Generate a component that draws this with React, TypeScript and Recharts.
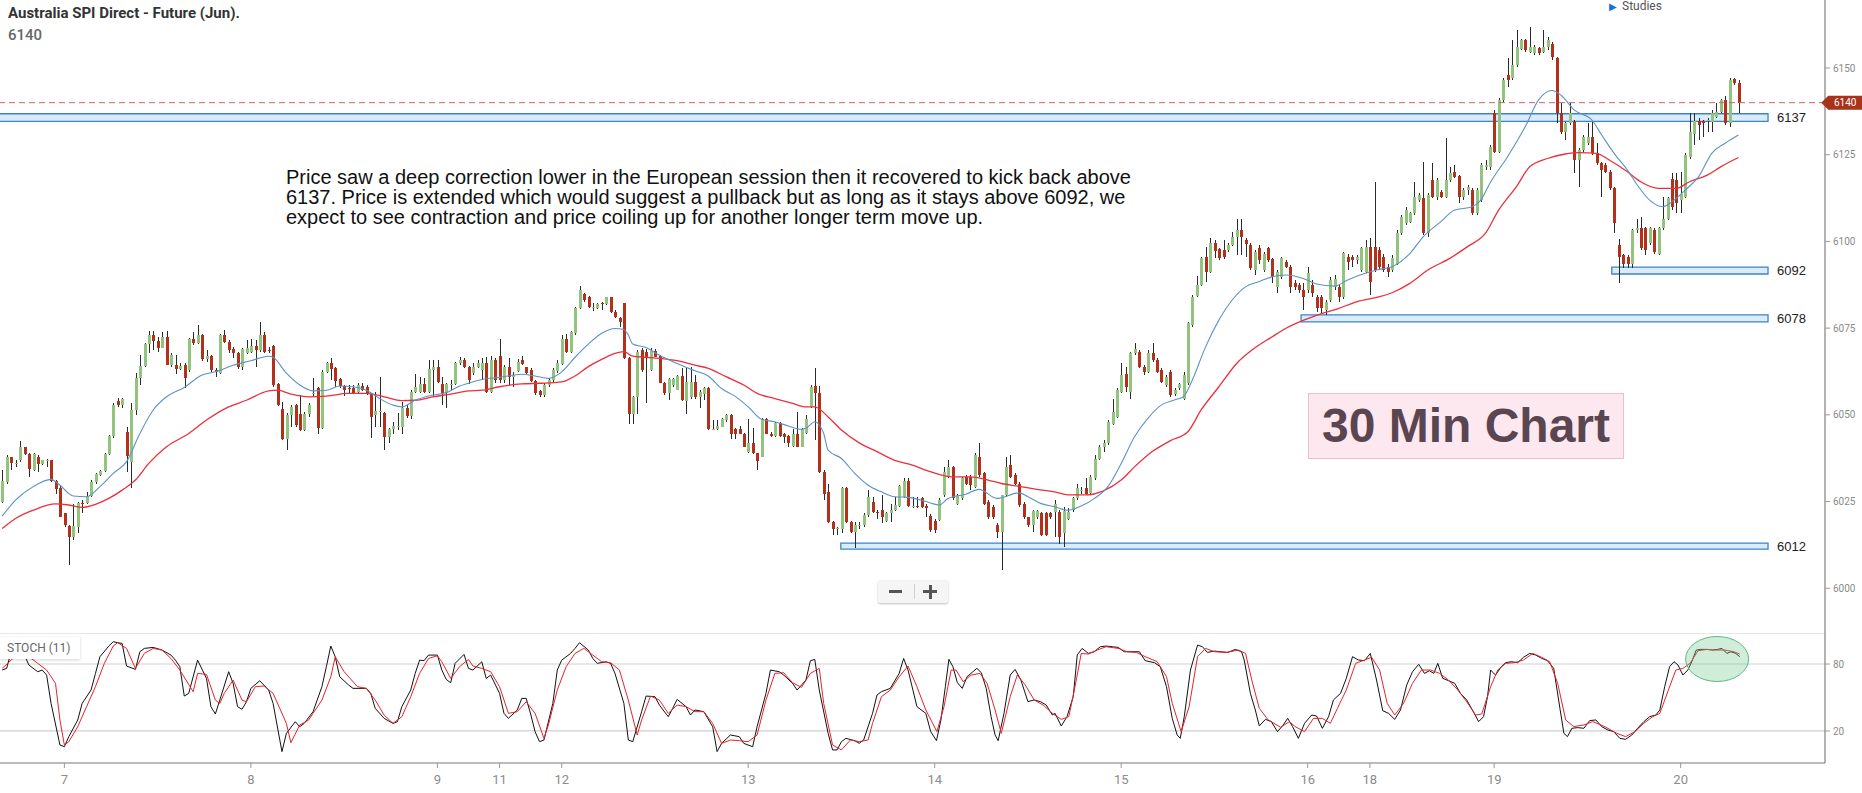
import React from "react";
import {
  ComposedChart, LineChart, Bar, Line, XAxis, YAxis,
  ReferenceArea, ReferenceLine, ReferenceDot,
} from "recharts";

// ---------- tick labels ----------
const dayTicks = [14, 56, 98, 112, 126, 168, 210, 252, 294, 308, 336, 378];
const dayLabels = ["7", "8", "9", "11", "12", "13", "14", "15", "16", "18", "19", "20"];
const priceTicks = [6000, 6025, 6050, 6075, 6100, 6125, 6150];
const stochTicks = [20, 80];
const SLOTS = 411;

// ---------- candles (30 min bars) ----------
const opens = [
  6024.8, 6030.7, 6037.7, 6036, 6037, 6040.6, 6038.7, 6034, 6037.7, 6035.8,
  6036.8, 6037, 6031, 6028.8, 6021.6, 6017.9, 6014.8, 6017.7, 6024.7, 6024.7,
  6026.7, 6030.5, 6032.6, 6033.9, 6038.7, 6043.9, 6054, 6052.8, 6045.1, 6036.5,
  6051.4, 6060.5, 6064.2, 6070.4, 6073, 6071.4, 6069.4, 6072.5, 6064.5, 6064.5,
  6063.2, 6064.5, 6062.9, 6071.8, 6070.6, 6073, 6066, 6067, 6062.9, 6062,
  6073, 6071.1, 6068.9, 6067.7, 6063.9, 6067.9, 6068.1, 6069.8, 6068.7, 6073,
  6068.7, 6069.8, 6058.9, 6051.8, 6042.9, 6049.9, 6052.8, 6050.2, 6045.6, 6050.2,
  6056.2, 6057.6, 6046.1, 6062.4, 6065, 6063.4, 6060.2, 6058.3, 6057.6, 6057.6,
  6056.6, 6058.3, 6058.1, 6056, 6050, 6050.9, 6050.6, 6043.7, 6045.8, 6046.8,
  6046.6, 6052.1, 6049.6, 6056.6, 6056.6, 6058.9, 6056.6, 6062.9, 6063.9, 6058.9,
  6056.4, 6058.9, 6058.9, 6064.8, 6065.8, 6063.7,
  6062.1, 6063.9, 6062.9, 6064.8, 6056.6, 6065.8, 6066.9, 6060, 6063.7, 6060.8,
  6062.7, 6065.8, 6063.7, 6062.9, 6059.8, 6056.9, 6055.7, 6058.6, 6060, 6062.7,
  6064.6, 6071.8, 6068.2, 6073.5, 6080.7, 6084.8, 6083.9, 6081, 6080.7, 6082.1,
  6081.9, 6083.9, 6079.7, 6077.8, 6082.1, 6066.3, 6050.2, 6055.2, 6068.7, 6068.2,
  6062.9, 6068.5, 6066.9, 6059.3, 6056.4, 6058.6, 6057.3, 6061.2, 6054, 6055.2,
  6059.5, 6055, 6056, 6057.6, 6045.8, 6045.8, 6046.6, 6048.5, 6049.9, 6045.8,
  6045.8, 6044.6, 6039.3, 6041.9, 6038.9, 6037.9, 6048.7, 6044.6, 6043.9, 6047.7,
  6044.6, 6043.9, 6041, 6044.6, 6040.8, 6044.8, 6052.3, 6058.3, 6056.2, 6033.6,
  6027.8, 6019.2, 6017.2, 6017.2, 6029, 6019.2, 6016.3, 6018.2, 6018.2, 6021.1,
  6024.9, 6022, 6022.7, 6019.4, 6021.6, 6022.5, 6023.7, 6026.4, 6031, 6023.7,
  6023.7, 6025.9, 6023.7, 6020.8, 6019.4, 6019.6, 6026.8, 6032.1, 6035, 6024.4,
  6025.9, 6032.1, 6032.1, 6029.3, 6037.9, 6033.1, 6024.9, 6023.5, 6018.2, 6016.3,
  6026.8, 6035.5, 6032.6, 6030.2, 6024.4, 6020.4, 6018.2, 6020.6, 6021.6, 6021.6,
  6021.6, 6022, 6022, 6015.8, 6020.1, 6022.5, 6025.9, 6028.3, 6028.8, 6027.5,
  6031.7, 6037.4, 6040.8, 6041.8, 6047.5, 6049.4, 6056.6, 6061.8, 6056.7, 6067.7,
  6068.2, 6063.9, 6062.4, 6067.9, 6065.8, 6062.9, 6058.6, 6062.4, 6056, 6057.6,
  6054.7, 6059.1, 6075.9, 6084.3, 6087.4, 6095.4, 6091.3, 6099.4, 6097.7, 6097.5,
  6097.5, 6099, 6101.2, 6103.3, 6100.4, 6099, 6091.8, 6098, 6091.7, 6098,
  6094.8, 6086.9, 6089.8, 6094.1, 6092.7, 6088.1, 6087.4, 6085.9, 6085.9, 6087.4,
  6084, 6084, 6080.2, 6083.1, 6086.9, 6086.9, 6084, 6095.6, 6095.6, 6094.6,
  6091.7, 6091.2, 6098.5, 6098.5, 6097.5, 6095.6, 6092.7, 6091.7, 6093.6, 6102.3,
  6105.2, 6105.7, 6108.1, 6112, 6112.4, 6102.3, 6117.7, 6112.9, 6114.3, 6112.9,
  6117.7, 6120.1, 6118.9, 6112.9, 6114.8, 6114.8, 6108.1, 6111.9, 6121.5, 6121.5,
  6136.9, 6125.9, 6140.8, 6148, 6147, 6150.9, 6155.6, 6158.1, 6154.7, 6154.2,
  6155.7, 6154.7, 6156.1, 6156.9, 6152.8, 6136.9, 6131.6, 6134, 6134.5, 6123.4,
  6126.3, 6128.3, 6130.2, 6125.4, 6122.5, 6122, 6120.1, 6115.3, 6098.9, 6096,
  6095.6, 6093.6, 6103.3, 6103.8, 6103.8, 6099.4, 6103.3, 6096.5, 6103.8, 6106.6,
  6117.9, 6117.7, 6111.9, 6112.9, 6124.4, 6131.1, 6134.8, 6134.8, 6134.8, 6134.5,
  6136, 6137.4, 6140.8, 6134, 6146.7, 6145.8,
];
const highs = [
  6034, 6038.4, 6037.9, 6037, 6042.5, 6040.8, 6038.9, 6038.9, 6038.4, 6037.1,
  6037.4, 6037.1, 6031.2, 6029.7, 6021.8, 6018.2, 6024.4, 6024.9, 6025.4, 6027.8,
  6031.2, 6033.1, 6034, 6038.9, 6044.2, 6053.3, 6054.9, 6054.9, 6046.5, 6053.3,
  6062.1, 6067.2, 6070.6, 6074.3, 6074.3, 6072.5, 6074, 6074.3, 6067.7, 6067.2,
  6065, 6064.8, 6072.1, 6074, 6075.9, 6073.3, 6068.7, 6067.2, 6063.4, 6073.3,
  6074.6, 6071.6, 6069.6, 6068.2, 6069.2, 6071.6, 6071.8, 6071.6, 6076.9, 6074,
  6069.6, 6070.1, 6059.1, 6053.8, 6050.4, 6052.8, 6053.1, 6055.7, 6050.9, 6053.3,
  6060.5, 6058.1, 6062.9, 6065.3, 6066.3, 6063.9, 6060.5, 6058.6, 6058.6, 6058.6,
  6059.3, 6059.1, 6058.6, 6056.4, 6056.6, 6060.8, 6050.9, 6046.1, 6048, 6050.6,
  6053.8, 6052.8, 6057.1, 6061.8, 6060.8, 6060.5, 6065.8, 6065.8, 6065.8, 6060.8,
  6059.1, 6060, 6065.3, 6066.8, 6066.3, 6064,
  6064.8, 6065.8, 6066.3, 6066.8, 6066.9, 6066.5, 6071.8, 6064.4, 6066.5, 6062.4,
  6066, 6066.9, 6063.9, 6063.4, 6060, 6057.1, 6059.1, 6060.5, 6063.4, 6065.8,
  6073, 6073.3, 6074.3, 6081.2, 6087, 6085.2, 6084.3, 6082.1, 6082.1, 6082.6,
  6084.1, 6084.1, 6080.2, 6078.3, 6082.3, 6066.6, 6055.4, 6068.7, 6069.2, 6068.9,
  6069.2, 6068.9, 6067.2, 6059.5, 6060.5, 6060.5, 6061.5, 6063.4, 6063.4, 6063.9,
  6061.5, 6057.1, 6058.1, 6057.9, 6048.5, 6048.5, 6049, 6050.2, 6050.2, 6046.1,
  6046.8, 6044.8, 6048.7, 6046.1, 6039.1, 6049, 6049, 6045.1, 6048, 6048,
  6044.8, 6044.2, 6045.8, 6050.9, 6046.1, 6049.9, 6058.6, 6063.4, 6058.3, 6034.1,
  6030.2, 6019.5, 6017.7, 6029.2, 6029.2, 6019.5, 6019.2, 6019.2, 6021.6, 6028.3,
  6026.4, 6022.5, 6026.8, 6022.1, 6024.4, 6026.4, 6029.7, 6031.7, 6031.7, 6026.4,
  6026.4, 6026.4, 6024.2, 6021.3, 6020.1, 6025.9, 6035, 6036.9, 6035.2, 6027.3,
  6032.1, 6032.6, 6032.6, 6038.9, 6041.8, 6033.6, 6025.4, 6023.9, 6018.7, 6027,
  6037.9, 6038.4, 6033.1, 6030.7, 6024.9, 6020.6, 6022.5, 6022.7, 6022, 6022,
  6022, 6025.4, 6022.5, 6023.5, 6023, 6026.4, 6030.2, 6029.3, 6031.7, 6032.6,
  6038.4, 6041.3, 6042.7, 6048.5, 6054.7, 6057.6, 6064.8, 6063.9, 6068.2, 6070.8,
  6068.7, 6064.4, 6068.7, 6070.8, 6066.3, 6063.4, 6061.5, 6062.9, 6057.6, 6059.1,
  6062.4, 6076.9, 6084.5, 6090, 6095.6, 6098.5, 6100.9, 6100.4, 6098, 6100.4,
  6099.4, 6102.8, 6106.4, 6106.4, 6100.9, 6099.4, 6097.5, 6099, 6097, 6098.5,
  6095.1, 6091.7, 6095.6, 6094.6, 6093.2, 6088.8, 6087.9, 6087.9, 6092.7, 6088.8,
  6084.5, 6084.5, 6083.1, 6089.8, 6090.3, 6087.4, 6097, 6096.5, 6096, 6096,
  6098.5, 6100.4, 6100.9, 6117.2, 6098.5, 6096.5, 6093.6, 6096, 6103.3, 6107.6,
  6110, 6108.6, 6117.2, 6113.9, 6123, 6113.9, 6122.5, 6118.2, 6114.8, 6129.7,
  6121.5, 6122, 6119.1, 6115.3, 6116.3, 6115.3, 6115.3, 6122.5, 6123.4, 6127.8,
  6137.9, 6141.3, 6147, 6152.8, 6158.1, 6161, 6158.5, 6158.5, 6161.9, 6156.6,
  6156.1, 6160.9, 6159, 6157.6, 6153.3, 6139.8, 6134.5, 6139.8, 6135, 6126.8,
  6130.7, 6134, 6134.5, 6128.3, 6123, 6122.5, 6120.6, 6115.8, 6100.8, 6096.5,
  6096.1, 6103.7, 6106.6, 6107.1, 6104.2, 6104.2, 6103.8, 6104.2, 6112.9, 6112.9,
  6119.6, 6119.6, 6120.1, 6125.4, 6136.9, 6136.9, 6135.5, 6135, 6135.5, 6137.9,
  6139.8, 6141.2, 6141.8, 6147, 6147, 6146.5,
];
const lows = [
  6024.5, 6030.2, 6034, 6035, 6036.5, 6038.4, 6032.2, 6033.8, 6033.6, 6035.5,
  6035, 6030.7, 6027.3, 6020.4, 6017.7, 6006.7, 6013.9, 6015.8, 6021.8, 6024.4,
  6026.4, 6030.2, 6032.3, 6033.6, 6038.4, 6043.2, 6052.3, 6052.1, 6033.6, 6028.8,
  6050, 6058.6, 6063.9, 6067.7, 6068.7, 6068.2, 6069.2, 6064.3, 6063.9, 6061.8,
  6062.9, 6057.6, 6062.4, 6070.1, 6070.3, 6065.6, 6065.3, 6062.4, 6061, 6061.8,
  6070.8, 6067.9, 6066.3, 6063.1, 6062.9, 6067.5, 6067.7, 6063.9, 6068.2, 6067.9,
  6067.7, 6058.1, 6052.5, 6042.7, 6039.8, 6046.6, 6046.6, 6045.4, 6045.4, 6049.4,
  6055.2, 6044.4, 6045.8, 6062, 6060, 6058.1, 6057.6, 6055.4, 6056.4, 6056,
  6056.4, 6056.9, 6055.7, 6043.2, 6046.6, 6046.6, 6039.8, 6041.8, 6044.6, 6045.6,
  6044.6, 6049, 6048.7, 6056.4, 6056.2, 6056.2, 6056.2, 6055.2, 6059.1, 6052.8,
  6052.1, 6057.1, 6058.6, 6064.3, 6063.4, 6059,
  6061.5, 6063.4, 6060, 6056.4, 6056.4, 6059.1, 6059.1, 6059.1, 6058.6, 6058.1,
  6062.4, 6064.3, 6061.8, 6059.5, 6055.7, 6055, 6055, 6058.1, 6059.5, 6062,
  6064.3, 6067.7, 6067.7, 6073, 6080.4, 6082.6, 6080.7, 6080, 6080.4, 6080.2,
  6081.7, 6079.3, 6077.8, 6075.4, 6066, 6047.5, 6047.5, 6050.2, 6062.4, 6053.5,
  6062.6, 6066.6, 6059.1, 6055.7, 6054.2, 6058.1, 6057.1, 6054, 6050.2, 6054.7,
  6054.7, 6052.1, 6054.2, 6045.6, 6045.6, 6045.6, 6046.4, 6048, 6042.9, 6042.9,
  6044.4, 6040.6, 6039.1, 6038.7, 6034.1, 6037.7, 6044.4, 6043.7, 6043.5, 6043.5,
  6041.9, 6040.8, 6040.8, 6040.6, 6040.6, 6044.6, 6052.1, 6042.7, 6033.3, 6025.4,
  6018.9, 6015.3, 6015.3, 6015.8, 6018.9, 6015.8, 6011.5, 6017.2, 6017.7, 6020.6,
  6021.6, 6020.1, 6018.9, 6019.2, 6019.2, 6022.3, 6023.5, 6025.9, 6023.3, 6023,
  6023, 6023, 6020.6, 6016.3, 6016, 6019.4, 6026.4, 6031.7, 6025.4, 6024,
  6025.4, 6029.7, 6028.3, 6028.8, 6032.1, 6024, 6020.1, 6020.1, 6014.4, 6005.2,
  6026.4, 6031.7, 6029.7, 6023.5, 6020.1, 6017.7, 6016.3, 6020.1, 6015, 6015,
  6020.1, 6014.8, 6012.9, 6012, 6019.6, 6022, 6025.4, 6027.3, 6026.8, 6027.3,
  6031.2, 6036.9, 6039.4, 6041.3, 6047, 6049, 6056.2, 6056.7, 6054.7, 6067.2,
  6063.4, 6061.5, 6062, 6065.3, 6062, 6059.1, 6058.1, 6055.2, 6055.5, 6057.1,
  6054.2, 6058.6, 6075.4, 6084.1, 6087, 6088.4, 6090.8, 6095.1, 6094.6, 6094.8,
  6097, 6098.7, 6096.1, 6096.1, 6095.6, 6091.8, 6090.3, 6093.6, 6091.2, 6094,
  6087.9, 6085, 6089.3, 6092.2, 6085, 6086, 6085, 6080.2, 6085, 6084,
  6079.7, 6079.2, 6078.7, 6082.6, 6086, 6082.6, 6083.5, 6091.7, 6092.7, 6093.6,
  6091.2, 6090.8, 6084.5, 6091.2, 6091.7, 6091.2, 6089.8, 6091.2, 6093.2, 6101.8,
  6104.7, 6105.2, 6107.6, 6111.4, 6101.8, 6101.3, 6112.4, 6111.9, 6112.4, 6112.4,
  6117.2, 6118.2, 6111, 6111.9, 6113.4, 6107.6, 6107.6, 6111.4, 6120.6, 6120.6,
  6125.4, 6125.4, 6140.3, 6144.6, 6146.5, 6150.4, 6155.2, 6154.7, 6154.2, 6153.7,
  6153.7, 6154.2, 6155.2, 6152.3, 6134, 6131.1, 6129.2, 6133.5, 6119.6, 6115.8,
  6125.9, 6127.8, 6124.9, 6122, 6112.9, 6119.6, 6114.8, 6102.3, 6088.1, 6092.2,
  6092.2, 6092.2, 6102.3, 6097.5, 6096.1, 6098.9, 6096.5, 6096.1, 6103.3, 6106.1,
  6109, 6108.1, 6108.1, 6112.4, 6123.9, 6127.8, 6129.2, 6130.2, 6131.6, 6131.6,
  6135.5, 6136.9, 6133.5, 6133.1, 6145.1, 6136.9,
];
const closes = [
  6031, 6037.7, 6036, 6036.2, 6040.8, 6038.7, 6034.5, 6038.7, 6035.8, 6037,
  6036.9, 6031, 6028.6, 6020.6, 6018.2, 6014.8, 6017.9, 6024.7, 6024.6, 6026.7,
  6030.7, 6032.9, 6033.9, 6038.7, 6043.9, 6052.8, 6052.8, 6054.7, 6038, 6051.4,
  6060.5, 6064.2, 6070.4, 6073, 6071.4, 6069.4, 6072.5, 6064.5, 6067.2, 6063.2,
  6064.2, 6060.5, 6071.8, 6070.6, 6073, 6066, 6067, 6062.9, 6062.4, 6073,
  6071.1, 6068.7, 6067.9, 6063.9, 6068.9, 6069.2, 6069.8, 6068.7, 6073, 6068.2,
  6068.5, 6058.6, 6052.8, 6042.9, 6049.9, 6052.3, 6047, 6045.6, 6050.2, 6052.8,
  6056.3, 6046.1, 6062.4, 6064.8, 6063.2, 6059.8, 6058.3, 6057.1, 6057.5, 6056.2,
  6058.6, 6057.3, 6056, 6049.3, 6051.2, 6051, 6043.7, 6045.8, 6046.8, 6046.9,
  6052.1, 6049.6, 6056.6, 6057.9, 6058.9, 6056.6, 6063.1, 6063.9, 6059.5, 6056.4,
  6058.9, 6059, 6064.8, 6065.8, 6063.9, 6060,
  6063.9, 6065, 6064.8, 6056.6, 6065.8, 6060, 6060, 6063.7, 6061, 6061.5,
  6065.3, 6064.6, 6062.1, 6059.8, 6056.4, 6055.7, 6058.6, 6060, 6062.9, 6064.8,
  6071.8, 6068.2, 6074, 6080.7, 6086, 6083.1, 6081, 6081.1, 6081.9, 6082,
  6083.9, 6079.7, 6078.1, 6076.8, 6066.3, 6050.2, 6055.2, 6068.2, 6062.9, 6066.6,
  6068.5, 6066.8, 6059.3, 6056.4, 6060.2, 6060.2, 6061.2, 6054.2, 6059.5, 6059.5,
  6055, 6056.6, 6057.6, 6045.8, 6045.9, 6046.8, 6048.7, 6049.9, 6044.6, 6044.6,
  6044.6, 6040.8, 6041.9, 6038.9, 6036.8, 6048.7, 6044.6, 6043.9, 6047.7, 6043.9,
  6043.7, 6041.8, 6044.6, 6040.8, 6045.8, 6048.7, 6058.1, 6056.4, 6033.6, 6027.1,
  6019.2, 6017.2, 6017.3, 6029, 6019.2, 6016.3, 6018.2, 6018.3, 6021.1, 6026.4,
  6022, 6021.6, 6020.4, 6021.8, 6022.7, 6024, 6029.4, 6031, 6023.7, 6023.8,
  6023.6, 6023.3, 6023, 6016.9, 6016.8, 6025.4, 6033.6, 6035, 6025.9, 6026.8,
  6031.7, 6030.2, 6029.7, 6038.4, 6032.6, 6024.4, 6020.6, 6020.6, 6016.3, 6026.8,
  6035, 6032.1, 6030.2, 6024, 6020.4, 6018.2, 6022.3, 6022.3, 6015.3, 6015.3,
  6020.6, 6024.4, 6014.8, 6022.3, 6022, 6025.9, 6028.8, 6028.4, 6027.3, 6032.1,
  6037.4, 6040.8, 6041.8, 6048, 6050.9, 6057.1, 6061.5, 6058.1, 6067.7, 6068.9,
  6063.9, 6062.4, 6067.9, 6065.8, 6062.4, 6059.5, 6061, 6055.7, 6057.1, 6058.8,
  6061.5, 6076.4, 6084.1, 6087.4, 6095.1, 6091.3, 6099.4, 6097.3, 6095.1, 6095.4,
  6099, 6101.4, 6103.3, 6101.4, 6099.3, 6092.2, 6097, 6094.6, 6096.5, 6094.6,
  6089.8, 6091.2, 6095.1, 6092.7, 6086.9, 6086.9, 6085.9, 6084, 6090.8, 6085,
  6080.7, 6080.7, 6082.6, 6088.8, 6089.3, 6084, 6096.7, 6094.1, 6094.6, 6095.6,
  6098, 6098.5, 6088.4, 6091.7, 6092.7, 6091.7, 6091.2, 6095.1, 6102.3, 6107.1,
  6109, 6108.1, 6112.9, 6113.4, 6102.3, 6113.4, 6112.9, 6117.7, 6112.9, 6117.7,
  6119.6, 6118.6, 6112.9, 6114.8, 6115.8, 6108.1, 6114.8, 6122, 6121.9, 6127.3,
  6125.9, 6140.8, 6146.5, 6146.5, 6150.9, 6156.1, 6158.1, 6155.2, 6156.1, 6156.1,
  6154.2, 6156.1, 6158.1, 6153.3, 6136.9, 6131.6, 6134, 6136.9, 6123.4, 6126.3,
  6130.2, 6130.2, 6125.4, 6122.5, 6120.6, 6120.1, 6115.3, 6105.2, 6095.6, 6093.6,
  6093.6, 6103.3, 6103.8, 6098, 6097.5, 6103.8, 6097, 6103.8, 6106.6, 6112.4,
  6110, 6111, 6113.8, 6124.9, 6131.6, 6134.8, 6133.5, 6134, 6134.9, 6136.9,
  6137.4, 6140.8, 6134, 6146.5, 6145.8, 6140,
];

// ---------- moving averages (read at sample bars) ----------
const fastAt = [
  0, 3, 7, 11, 13, 16, 19, 22, 25, 28, 31, 34, 37, 41, 45, 48, 52, 56, 60, 61,
  64, 67, 70, 73, 76, 79, 82, 85, 88, 90, 93, 97, 100, 103, 105, 108, 112, 117, 120, 123,
  126, 129, 132, 135, 138, 140, 141, 142, 145, 148, 152, 156, 159, 162, 165, 168, 171, 174, 177, 180,
  181, 183, 185, 186, 189, 192, 195, 198, 201, 204, 207, 209, 211, 213, 217, 220, 224, 229, 231, 234,
  237, 240, 243, 246, 249, 252, 255, 258, 261, 264, 266, 268, 271, 274, 277, 280, 283, 286, 289, 293,
  296, 300, 303, 307, 310, 313, 317, 320, 324, 327, 331, 333, 335, 339, 343, 346, 349, 351, 354, 358,
  360, 363, 366, 368, 371, 374, 376, 379, 382, 385, 388, 391,
];
const fastVals = [
  6020.8, 6025.4, 6029.3, 6031.4, 6029.7, 6026.6, 6026.4, 6029.3, 6033.1, 6036.5, 6044.6, 6051.4, 6055.2, 6057.9, 6061.5, 6062.4, 6064.3, 6065.6, 6066.9, 6066.6,
  6062, 6058.6, 6056.9, 6057.1, 6058.3, 6058.1, 6057.1, 6054.7, 6052.8, 6052.3, 6054.2, 6055.7, 6056.4, 6058.3, 6059.1, 6060.2, 6060.8, 6061.7, 6061.2, 6060.5,
  6062.4, 6066.6, 6070.4, 6073.5, 6074.9, 6074.6, 6073, 6070.4, 6069.4, 6067.2, 6064.8, 6062.7, 6061.2, 6057.6, 6055.4, 6052.3, 6048.7, 6048, 6046.8, 6045.8,
  6046.1, 6048, 6044.6, 6039.8, 6037.4, 6033.1, 6029.7, 6027.8, 6026.4, 6026.2, 6025.4, 6024.6, 6024, 6025.9, 6027.1, 6028.5, 6025.9, 6027.5, 6026.4, 6024.4,
  6023.5, 6022.5, 6023.7, 6025.9, 6029.3, 6036, 6043.7, 6049, 6052.8, 6054.3, 6055.2, 6060, 6069.6, 6077.3, 6083.1, 6086.9, 6088.4, 6089.8, 6090.3, 6089.3,
  6087.7, 6087.1, 6088.9, 6090.8, 6091.9, 6092.7, 6096.5, 6101.3, 6105.7, 6109, 6110, 6111.9, 6116.7, 6124.4, 6133.1, 6140.8, 6143.5, 6142.2, 6137.9, 6135,
  6131.1, 6125.4, 6120.6, 6116.7, 6111.9, 6110, 6111.4, 6114.8, 6118.6, 6125.4, 6128.3, 6130.7,
];
const slowAt = [
  0, 3, 7, 12, 15, 18, 21, 24, 27, 30, 33, 37, 42, 46, 51, 55, 60, 62, 65, 69,
  73, 78, 82, 86, 90, 93, 97, 101, 105, 108, 112, 117, 121, 126, 129, 132, 135, 138, 140, 142,
  145, 148, 152, 156, 159, 163, 167, 170, 174, 178, 181, 183, 186, 189, 193, 197, 201, 205, 209, 214,
  218, 222, 225, 229, 233, 237, 240, 244, 248, 252, 255, 259, 263, 267, 270, 274, 278, 282, 286, 289,
  296, 301, 305, 310, 313, 317, 321, 326, 330, 334, 337, 341, 344, 348, 352, 355, 359, 362, 366, 369,
  373, 377, 380, 384, 387, 391,
];
const slowVals = [
  6017.2, 6020.1, 6022.5, 6024.3, 6024, 6023.3, 6024.2, 6025.9, 6028.3, 6031.2, 6036, 6040.8, 6044.6, 6048.5, 6052.3, 6054.2, 6056.9, 6057.1, 6056, 6055.2,
  6055.4, 6056.2, 6056.2, 6055.2, 6054.1, 6054.2, 6055.2, 6056, 6056.9, 6057.1, 6058.1, 6058.9, 6059.1, 6059.5, 6061.2, 6063.9, 6066, 6067.7, 6068.2, 6066.9,
  6066.6, 6066.3, 6065.6, 6064.3, 6063.4, 6061, 6058.6, 6056.2, 6054.7, 6053.3, 6052.3, 6052.3, 6049.4, 6045.6, 6041.9, 6039.4, 6036.9, 6035.5, 6033.6, 6032.1,
  6032.1, 6031.2, 6030.2, 6029.4, 6028.5, 6027.8, 6026.9, 6026.9, 6028.1, 6031.2, 6035, 6039.4, 6042.5, 6045.1, 6051.4, 6058.1, 6064.8, 6069.2, 6072.5, 6074.9,
  6078.7, 6080.7, 6082.6, 6084, 6085.2, 6087.9, 6091.7, 6095.1, 6098.5, 6102.3, 6109, 6115.8, 6121.5, 6123.9, 6125.2, 6125.6, 6125.4, 6123.4, 6120.1, 6117.2,
  6115.3, 6115.3, 6117.2, 6119.1, 6121.5, 6124.2,
];

// ---------- stochastic (11) ----------
const kAt = [
  0, 1, 2, 4, 5, 6, 8, 9, 10, 11, 13, 14, 15, 17, 18, 20, 21, 22, 24, 25,
  26, 27, 28, 30, 31, 32, 34, 36, 38, 39, 40, 41, 42, 44, 46, 47, 48, 49, 51, 52,
  53, 54, 55, 56, 58, 60, 61, 63, 64, 66, 67, 68, 70, 72, 73, 74, 75, 76, 78, 79,
  82, 83, 84, 86, 88, 89, 90, 92, 93, 94, 95, 96, 98, 99, 100, 101, 102, 104, 105, 106,
  108, 109, 110, 112, 113, 114, 116, 117, 118, 119, 120, 121, 122, 124, 125, 126, 128, 129, 130, 132,
  133, 134, 136, 137, 138, 140, 141, 142, 144, 145, 147, 148, 150, 151, 152, 154, 155, 156, 158, 160,
  161, 162, 164, 166, 167, 169, 170, 172, 173, 175, 176, 178, 179, 181, 182, 183, 184, 186, 187, 188,
  189, 190, 192, 193, 194, 196, 197, 198, 200, 202, 203, 204, 206, 208,
  209.1, 210.4, 211.4, 212.4, 213.2, 214.1, 215.1, 216.2, 217.3, 218.6, 219.5, 220.5, 221.6, 222.7, 223.6, 224.3, 225.6, 227, 228.1, 229.4,
  231, 232.4, 233.8, 235.1, 236.5, 237.1, 238.5, 239.8, 241.2, 242.1, 243.2, 244.6, 245.9, 247.3, 248.6, 250, 251.3, 252.7, 254, 256.1,
  257.4, 259.5, 260.8, 262.2, 263.5, 264.6, 265.3, 266.2, 267.6, 269.2, 270.3, 271.4, 273, 274.3, 276, 277.7, 279.1, 279.7, 281.1, 282.2,
  283.1, 284.5, 285.8, 287.2, 288.5, 289.5, 290.6, 291.9, 293.3, 294.9, 296, 297.3, 298.7, 299.8, 301.4, 302.7, 304.1, 305.4, 306.8, 308.1,
  309.5, 310.9, 312.2, 313.6, 314.9, 316.3, 317.6, 319, 320.3, 321.4, 322.4, 323.3, 324.4, 325.7, 327.1, 328.4, 329.8, 331.1, 332.5, 333.6,
  334.5, 335.2, 336.3, 337.6, 338.6, 339.9, 341.3, 342.6, 344, 345.3, 346.7, 348, 349.4, 350.8, 351.7, 352.5, 353.5, 354.8, 356.2, 357.5,
  358.9, 360.2, 361.6, 362.9, 364.3, 365.6, 367, 368.3, 369.7, 371, 372.4, 373.3, 374.4, 375.5, 376.5, 377.4, 378.5, 379.6, 380.5, 381.5,
  382.5, 383.9, 385.2, 386.3, 387.3, 388.4, 389.3, 390.4, 391.3,
];
const kVals = [
  74.6, 76.1, 91, 91.9, 88, 79.1, 73.1, 74.6, 70.1, 44.7, 7.4, 5.9, 14.9, 29.8, 44.7, 56.7, 71.6, 86.5, 96.1, 100,
  99.1, 98.5, 78.2, 75.2, 91, 94, 94.9, 92.5, 88, 83.5, 77.6, 51.3, 53.7, 83.5, 67.1, 41.8, 35.2, 47.7, 73.1, 62.7,
  41.8, 39.4, 46.2, 58.2, 65, 56.7, 44.7, 1.5, 17.9, 28.3, 23.8, 26.8, 37.3, 59.7, 77.6, 96.1, 86.5, 68.6, 61.2, 58.2,
  58.2, 53.7, 40.3, 31.3, 26.8, 28.3, 41.8, 56.7, 71.6, 83.5, 83, 88, 88, 74.6, 66.2, 63.2, 80.6, 88.6, 76.1, 74.6,
  82, 67.1, 70.1, 53.7, 35.8, 31.3, 38.8, 49.2, 49.2, 35.2, 19.4, 10.4, 11.9, 44.7, 74.6, 83.5, 89.5, 94, 99.1, 92.5,
  85, 80.6, 82, 80.6, 71.6, 44.7, 11.9, 10.4, 37.3, 51.3, 50.7, 43.2, 32.8, 40.3, 48.3, 41.8, 34.3, 38.8, 37.3, 23.8,
  1.5, 8.9, 16.4, 14.9, 8.9, 5.9, 23.8, 53.7, 74.6, 73.1, 70.1, 62.7, 56.7, 65.6, 83, 84.1, 56.7, 17.9, 3, 3,
  10.4, 13.4, 11.3, 8.9, 11.9, 35.8, 52.2, 55.2, 58.2, 71.6, 85, 74.6, 41.8, 35.8,
  19.4, 11.3, 29.9, 59.7, 84.2, 77.6, 63.3, 58.2, 68.7, 73.1, 76.1, 72.2, 58.2, 32.8, 16.4, 11.3, 35.8, 70.1, 75.2, 65.7,
  46.3, 47.8, 46.3, 43.3, 34.3, 35.8, 24.5, 32.8, 50.7, 88.1, 94, 89.5, 91, 95.5, 96.1, 95.5, 94.9, 91, 91, 91,
  83, 81.2, 77.6, 59.7, 31.3, 16.4, 13.4, 32.8, 74.6, 97, 95.5, 90.4, 91.6, 91, 90.4, 93.1, 91, 83.6, 53.7, 38.8,
  24.5, 30.4, 28.4, 19.4, 25.4, 31.3, 23.9, 13.4, 26.9, 34.3, 33.4, 22.4, 32.8, 47.8, 53.7, 67.2, 86.6, 83.6, 83, 89.5,
  65.7, 38.2, 35.8, 30.4, 38.8, 61.2, 73.1, 79.7, 71.6, 74, 71.6, 80.6, 67.2, 65.1, 62.7, 53.7, 47.8, 38.8, 28.4, 32.8,
  50.7, 74.6, 70.1, 77.6, 81.2, 82.1, 81.2, 86, 89.5, 88.1, 85.1, 83, 76.1, 40.3, 17.9, 14.9, 22.4, 23, 22.4, 29.3,
  29.9, 23.9, 20.9, 19.4, 13.4, 12.5, 16.4, 22.4, 28.4, 32.8, 34.3, 38.8, 59.7, 77.6, 82.1, 79.1, 70.1, 74.6, 82.1, 92.5,
  93.1, 93.1, 92.5, 93.1, 94, 89.5, 91, 89.5, 86.6,
];
const dAt = [
  0, 2, 4, 6, 8, 10, 12, 13, 14, 15, 17, 19, 21, 23, 25, 26, 28, 30, 32, 34,
  36, 38, 40, 43, 44, 46, 48, 49, 50, 52, 54, 55, 57, 59, 61, 64, 65, 67, 69, 72,
  74, 75, 77, 80, 82, 84, 86, 88, 90, 92, 94, 96, 98, 99, 101, 103, 105, 106, 108, 110,
  112, 114, 116, 118, 120, 122, 123, 125, 127, 129, 131, 133, 135, 137, 139, 141, 143, 144, 146, 148,
  150, 152, 154, 156, 158, 160, 162, 164, 166, 168, 170, 172, 174, 176, 178, 180, 182, 184, 185, 187,
  189, 191, 193, 195, 196, 198, 200, 202, 204, 206, 208,
  210.5, 212.1, 213.7, 214.8, 216.4, 218.2, 220.2, 221.8, 223.6, 225, 227, 228.6, 230.4, 232.4, 234.4, 236.5, 238.5, 240.2, 241.6, 243,
  244.6, 246.6, 248.6, 251.3, 253.4, 255.4, 257.4, 260.1, 262.2, 263.5, 265.5, 267.3, 269.2, 271, 273, 275.7, 278.4, 280, 281.4, 283.1,
  285.1, 287.9, 289.9, 291.2, 293.3, 295.3, 297.3, 299.1, 300.7, 302.7, 304.8, 306.8, 308.4, 310.2, 311.9, 313.6, 315.6, 317.6, 319.6, 321.7,
  323.7, 325.7, 327.8, 329.8, 331.8, 333.2, 335.2, 336.8, 338.6, 340.6, 342.6, 344.7, 346.7, 348.5, 350.3, 352.1, 353.9, 356.2, 358.2, 360.9,
  363.6, 365.6, 367.7, 369.7, 371.7, 373.3, 375.1, 376.9, 378.5, 380.1, 381.9, 383.9, 385.9, 387.9, 390, 391.3,
];
const dVals = [
  76.1, 83.5, 91, 86.5, 80.6, 74.6, 62.7, 29.8, 7.4, 10.4, 23.8, 41.8, 59.7, 80.6, 96.1, 99.1, 94, 76.1, 89.5, 94,
  92.5, 85, 74.6, 55.2, 71.6, 70.7, 47.7, 44.7, 53.7, 65.6, 47.7, 46.2, 59.7, 60.3, 53.7, 26.8, 9.5, 25.3, 29.8, 47.7,
  68.6, 86.5, 73.1, 59.7, 58.2, 47.7, 34.3, 26.8, 32.8, 50.7, 71.6, 85, 87.4, 82, 67.1, 77.6, 84.1, 78.2, 76.1, 73.1,
  59.7, 35.8, 37.3, 46.2, 35.8, 13.4, 25.3, 56.7, 77.6, 89.5, 94, 88, 82, 81.2, 74.6, 47.7, 16.4, 29.8, 51.3, 47.7,
  35.8, 43.2, 41.8, 37.3, 37.3, 26.8, 8.9, 11.9, 11.3, 10.4, 16.4, 47.7, 71.6, 72.2, 63.2, 59.1, 71.6, 76.1, 44.7, 7.4,
  3, 11.9, 10.4, 11.9, 26.8, 50.7, 56.7, 68.6, 78.2, 59.7, 38.8,
  19.4, 41.8, 74.6, 74.6, 64.2, 70.1, 71.6, 62.7, 38.8, 17.9, 50.7, 70.1, 61.2, 47.8, 43.3, 35.8, 30.4, 32.8, 59.7, 89.5,
  88.9, 92.5, 95.5, 94, 91, 90.4, 86.6, 82.1, 68.7, 44.8, 19.4, 41.8, 86.6, 94, 91, 90.4, 92.5, 89.5, 65.7, 40.3,
  29.9, 23.3, 28.4, 23.9, 19.4, 31.3, 31.3, 26.9, 40.3, 56.7, 80.6, 83.6, 86, 74.6, 44.8, 34.3, 44.8, 62.7, 74.6, 74.6,
  71.6, 65.7, 56.7, 46.3, 34.3, 35.2, 59.7, 74.6, 80.6, 81.2, 83.6, 89.5, 86, 82.1, 62.7, 29.9, 23.9, 25.4, 28.4, 23.9,
  17.9, 14.9, 19.4, 26.9, 32.8, 35.8, 55.2, 74.6, 76.1, 80.6, 91.9, 93.1, 92.5, 92.5, 91, 88.9,
];

// ---------- support / resistance zones ----------
const zoneLabels = ["6137", "6092", "6078", "6012"];
const zoneFrom = [-0.4, 362.1, 292.3, 188.9];
const zoneTo = [397.2, 397.2, 397.2, 397.2];
const zoneLow = [6134.6, 6090.6, 6076.8, 6011.3];
const zoneHigh = [6136.8, 6092.6, 6078.8, 6013];
const lastPrice = 6140;

// ---------- tables built for recharts ----------
const rows: any[] = Array.from({ length: SLOTS }, (_, i) => {
  if (i < opens.length) {
    const o = opens[i], c = closes[i];
    const hi = Math.max(highs[i], o, c);
    const lo = Math.min(lows[i], o, c);
    return { i, o, c, hi, lo, range: [lo, hi], fast: null, slow: null };
  }
  return { i, o: null, c: null, hi: null, lo: null, range: null, fast: null, slow: null };
});
fastAt.forEach((idx, k) => { rows[idx].fast = fastVals[k]; });
slowAt.forEach((idx, k) => { rows[idx].slow = slowVals[k]; });
const kData = kAt.map((x, k) => ({ x, v: kVals[k] }));
const dData = dAt.map((x, k) => ({ x, v: dVals[k] }));

const GREEN = "#93c47f";
const RED = "#b4301a";

function Candle(props: any) {
  const { x, y, width, height, payload } = props;
  if (!payload || payload.o == null || !isFinite(y) || !isFinite(height)) return <g />;
  const top = Math.min(y, y + height);
  const span = Math.abs(height);
  const k = payload.hi - payload.lo > 0 ? span / (payload.hi - payload.lo) : 0;
  const yO = top + (payload.hi - payload.o) * k;
  const yC = top + (payload.hi - payload.c) * k;
  const c = Math.round(x + width / 2);
  const bTop = Math.min(yO, yC);
  const bH = Math.max(1, Math.abs(yO - yC));
  const up = payload.c >= payload.o;
  return (
    <g>
      <line x1={c + 0.5} x2={c + 0.5} y1={top} y2={top + span} stroke="#2b2b2b" strokeWidth={1} shapeRendering="crispEdges" />
      <rect x={c - 1} y={bTop} width={3} height={bH} fill={up ? GREEN : RED} shapeRendering="crispEdges" />
    </g>
  );
}

function PriceTag(props: any) {
  const { cx, cy } = props;
  if (!isFinite(cx) || !isFinite(cy)) return <g />;
  const pts = `${cx - 6},${cy} ${cx + 1},${cy - 7} ${cx + 35},${cy - 7} ${cx + 35},${cy + 7} ${cx + 1},${cy + 7}`;
  return (
    <g>
      <polygon points={pts} fill="#a8321a" />
      <text x={cx + 18} y={cy + 3.5} fill="#fff" fontSize={10} fontFamily="Roboto, sans-serif" textAnchor="middle">{String(lastPrice)}</text>
    </g>
  );
}

function Ellipse(props: any) {
  const { cx, cy } = props;
  if (!isFinite(cx) || !isFinite(cy)) return <g />;
  return <ellipse cx={cx} cy={cy} rx={31.5} ry={22.5} fill="rgba(110,200,140,0.33)" stroke="#5fb784" strokeWidth={1} />;
}

const axisFont = "Roboto, sans-serif";

export default function App() {
  return (
    <div style={{ position: "absolute", left: 0, top: 0, width: 1862, height: 793, background: "#fff", overflow: "hidden", fontFamily: axisFont }}>
      <div style={{ position: "absolute", left: 0, top: 0 }}>
        <ComposedChart width={1862} height={633} data={rows} margin={{ top: 0, right: 0, bottom: 0, left: 0 }}>
          <XAxis dataKey="i" hide />
          <XAxis xAxisId="num" type="number" domain={[-0.5, 410.5]} allowDataOverflow hide />
          <YAxis
            orientation="right" width={37} domain={[5987.1, 6169.6]} allowDataOverflow
            ticks={priceTicks} interval={0} tickSize={5} tickMargin={3}
            tick={{ fontSize: 10, fill: "#8a8a8a", fontFamily: axisFont }}
            tickLine={{ stroke: "#999" }} axisLine={{ stroke: "#666" }}
          />
          {zoneLabels.map((lab, k) => (
            <ReferenceArea
              key={lab} xAxisId="num" x1={zoneFrom[k]} x2={zoneTo[k]} y1={zoneLow[k]} y2={zoneHigh[k]}
              ifOverflow="visible"
              fill="#d9ecfb" fillOpacity={1} stroke="#3f82c6" strokeWidth={1.3}
              label={{ value: lab, position: "right", offset: 9, fill: "#222", fontSize: 13, fontFamily: "'Liberation Sans', Arial, sans-serif" }}
            />
          ))}
          <ReferenceLine y={lastPrice} stroke="#c8645c" strokeDasharray="6 4" strokeWidth={1} />
          <Bar dataKey="range" shape={<Candle />} isAnimationActive={false} />
          <Line dataKey="slow" type="monotone" stroke="#ec2f3a" strokeWidth={1.3} dot={false} activeDot={false} connectNulls isAnimationActive={false} />
          <Line dataKey="fast" type="monotone" stroke="#5b92c9" strokeWidth={1.1} dot={false} activeDot={false} connectNulls isAnimationActive={false} />
          <ReferenceDot xAxisId="num" x={410.5} y={lastPrice} r={1} ifOverflow="visible" shape={<PriceTag />} />
        </ComposedChart>
      </div>

      <div style={{ position: "absolute", left: 0, top: 633 }}>
        <LineChart width={1862} height={160} margin={{ top: 0, right: 0, bottom: 0, left: 0 }}>
          <XAxis
            type="number" dataKey="x" domain={[-0.5, 410.5]} allowDataOverflow
            ticks={dayTicks} interval={0} height={30} tickSize={5} tickMargin={7}
            tickFormatter={(v: number) => dayLabels[dayTicks.indexOf(v)] ?? ""}
            tick={{ fontSize: 13, fill: "#8c8c8c", fontFamily: axisFont }}
            tickLine={{ stroke: "#999" }} axisLine={{ stroke: "#777" }}
          />
          <YAxis
            orientation="right" width={37} domain={[-8.7, 107.8]} allowDataOverflow
            ticks={stochTicks} interval={0} tickSize={5} tickMargin={3}
            tick={{ fontSize: 10, fill: "#8a8a8a", fontFamily: axisFont }}
            tickLine={{ stroke: "#999" }} axisLine={{ stroke: "#666" }}
          />
          <ReferenceLine y={107.8} stroke="#cfcfcf" strokeWidth={1.2} />
          <ReferenceLine y={80} stroke="#cfcfcf" strokeWidth={1.2} />
          <ReferenceLine y={20} stroke="#cfcfcf" strokeWidth={1.2} />
          <Line data={kData} dataKey="v" type="linear" stroke="#111" strokeWidth={1} dot={false} activeDot={false} isAnimationActive={false} />
          <Line data={dData} dataKey="v" type="linear" stroke="#e8222c" strokeWidth={1} dot={false} activeDot={false} isAnimationActive={false} />
          <ReferenceDot x={386.2} y={84.5} r={1} ifOverflow="visible" shape={<Ellipse />} />
        </LineChart>
      </div>

      {/* header */}
      <div style={{ position: "absolute", left: 8, top: 4, fontFamily: axisFont, fontWeight: 700, fontSize: 15, color: "#333", whiteSpace: "nowrap" }}>
        Australia SPI Direct - Future (Jun).
      </div>
      <div style={{ position: "absolute", left: 8, top: 26, fontFamily: axisFont, fontWeight: 500, fontSize: 15, color: "#666" }}>
        6140
      </div>
      <div style={{ position: "absolute", left: 1609, top: 0, fontFamily: axisFont, fontSize: 12, lineHeight: "13px", color: "#555", whiteSpace: "nowrap" }}>
        <span style={{ color: "#1a6fd8", fontSize: 10, marginRight: 5 }}>▶</span>Studies
      </div>

      {/* commentary */}
      <div style={{ position: "absolute", left: 286, top: 167, fontFamily: "'Liberation Sans', Arial, sans-serif", fontSize: 20, lineHeight: "20px", color: "#111", whiteSpace: "nowrap" }}>
        Price saw a deep correction lower in the European session then it recovered to kick back above<br />
        6137. Price is extended which would suggest a pullback but as long as it stays above 6092, we<br />
        expect to see contraction and price coiling up for another longer term move up.
      </div>

      <div style={{ position: "absolute", left: 1308, top: 393, width: 316, height: 66, boxSizing: "border-box", background: "#fde8f0", border: "1px solid #efbdd0", display: "flex", alignItems: "center", justifyContent: "center" }}>
        <span style={{ fontFamily: "'Liberation Sans', Arial, sans-serif", fontWeight: 700, fontSize: 48, color: "#5a4651", lineHeight: "48px" }}>30 Min Chart</span>
      </div>

      {/* zoom buttons */}
      <div style={{ position: "absolute", left: 878, top: 580, width: 70, height: 23, background: "#f5f5f5", boxShadow: "0 1px 2px rgba(0,0,0,0.25)", borderRadius: 2 }}>
        <div style={{ position: "absolute", left: 11, top: 10, width: 13, height: 3, background: "#555" }} />
        <div style={{ position: "absolute", left: 36, top: 4, width: 1, height: 15, background: "#d0d0d0" }} />
        <div style={{ position: "absolute", left: 45, top: 10, width: 14, height: 3, background: "#555" }} />
        <div style={{ position: "absolute", left: 50.5, top: 4.5, width: 3, height: 14, background: "#555" }} />
      </div>

      {/* stoch legend */}
      <div style={{ position: "absolute", left: 0, top: 637, width: 80, height: 22, background: "#fff", boxShadow: "0 1px 3px rgba(0,0,0,0.18)", fontFamily: axisFont, fontSize: 12, color: "#666", lineHeight: "22px", paddingLeft: 7, boxSizing: "border-box", whiteSpace: "nowrap" }}>
        STOCH (11)
      </div>
    </div>
  );
}
